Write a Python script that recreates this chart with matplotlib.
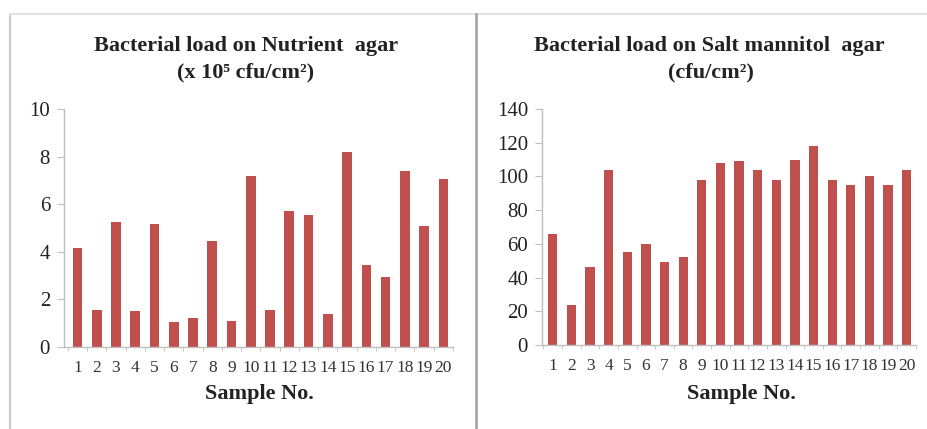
import numpy as np
import matplotlib
matplotlib.use('agg')
import matplotlib.pyplot as plt
from matplotlib.lines import Line2D

samples = list(range(1, 21))
nutrient = [4.15, 1.55, 5.25, 1.5, 5.15, 1.05, 1.2, 4.45, 1.1, 7.2,
            1.55, 5.7, 5.55, 1.4, 8.2, 3.45, 2.95, 7.4, 5.1, 7.05]
mannitol = [66, 24, 46, 104, 55, 60, 49, 52, 98, 108,
            109, 104, 98, 110, 118, 98, 95, 100, 95, 104]

bar_color = '#C0504D'
axis_gray = '#BFBFBF'
W, H = 928, 429

plt.rcParams['font.family'] = ['Liberation Serif', 'DejaVu Serif']

fig = plt.figure(figsize=(W / 100, H / 100), dpi=100)


def px_axes(x0, x1, ytop, ybot):
    # pixel box -> figure fraction
    return fig.add_axes([x0 / W, 1 - ybot / H, (x1 - x0) / W, (ybot - ytop) / H])


def style(ax, ymax, ystep, xlim):
    ax.set_xlim(*xlim)
    ax.set_ylim(0, ymax)
    ax.set_yticks(np.arange(0, ymax + 1e-9, ystep))
    ax.set_xticks(samples)
    ax.set_xticks(np.arange(0.5, 21, 1), minor=True)
    for s in ['top', 'right']:
        ax.spines[s].set_visible(False)
    for s in ['left', 'bottom']:
        ax.spines[s].set_color(axis_gray)
        ax.spines[s].set_linewidth(1.0)
    ax.tick_params(axis='y', length=5, color=axis_gray, labelsize=15, pad=5, labelcolor='#222222')
    ax.tick_params(axis='x', which='major', length=0, labelsize=12.5, pad=9, labelcolor='#333333')
    ax.tick_params(axis='x', which='minor', length=3, color=axis_gray)
    ax.patch.set_alpha(0)


title_kw = dict(ha='center', va='center', fontsize=16, fontweight='bold', color='#222222')
xlab_kw = dict(ha='center', va='center', fontsize=16, fontweight='bold', color='#222222')

# left panel
ax1 = px_axes(64, 453, 109, 347)
ax1.bar(samples, nutrient, width=0.5, color=bar_color)
style(ax1, 10, 2, (0.3, 20.5))
fig.text(246 / W, 1 - 46 / H, 'Bacterial load on Nutrient  agar', **title_kw)
fig.text(246 / W, 1 - 72 / H, '(x 10\u2075 cfu/cm\u00b2)', **title_kw)
fig.text(259 / W, 1 - 394 / H, 'Sample No.', **xlab_kw)

# right panel
ax2 = px_axes(542, 916, 109, 345)
ax2.bar(samples, mannitol, width=0.5, color=bar_color)
style(ax2, 140, 20, (0.42, 20.4))
fig.text(709 / W, 1 - 46 / H, 'Bacterial load on Salt mannitol  agar', **title_kw)
fig.text(711 / W, 1 - 72 / H, '(cfu/cm\u00b2)', **title_kw)
fig.text(741 / W, 1 - 394 / H, 'Sample No.', **xlab_kw)

# panel frame lines
fig.add_artist(Line2D([10.5 / W, 10.5 / W], [0, 1 - 14 / H], color='#C8C8C8', lw=1.5, transform=fig.transFigure))
fig.add_artist(Line2D([10 / W, 1], [1 - 14 / H, 1 - 14 / H], color='#E2E2E2', lw=1.5, transform=fig.transFigure))
fig.add_artist(Line2D([476 / W, 476 / W], [0, 1 - 14 / H], color='#A8A8A8', lw=2, transform=fig.transFigure))

fig.savefig('out.png', dpi=100)
